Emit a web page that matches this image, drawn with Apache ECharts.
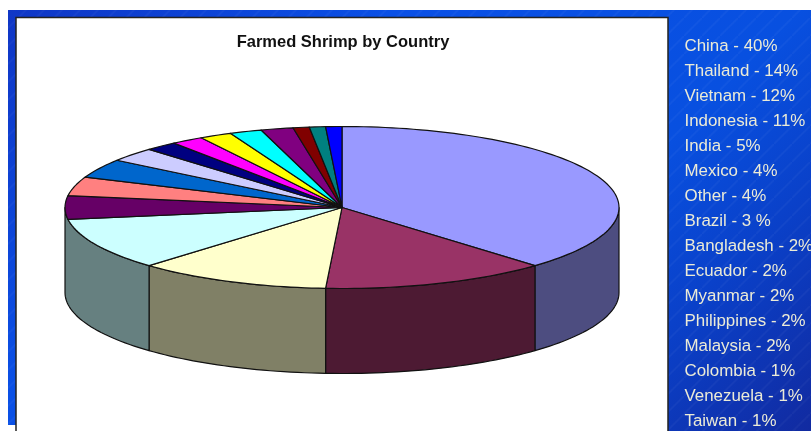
<!DOCTYPE html>
<html>
<head>
<meta charset="utf-8">
<style>html,body{margin:0;padding:0;background:#fff}#chart{width:811px;height:431px}</style>
<script src="https://cdn.jsdelivr.net/npm/echarts@6/dist/echarts.min.js"></script>
</head>
<body>
<div id="chart"></div>
<script>
// Farmed shrimp production share by country
const countries = ['China','Thailand','Vietnam','Indonesia','India','Mexico','Other','Brazil','Bangladesh','Ecuador','Myanmar','Philippines','Malaysia','Colombia','Venezuela','Taiwan'];
const shares = [40,14,12,11,5,4,4,3,2,2,2,2,2,1,1,1];
const shareSuffix = ['%','%','%','%','%','%','%',' %','%','%','%','%','%','%','%','%'];
const topColors = ['#9999ff','#993366','#ffffcc','#ccffff','#660066','#ff8080','#0066cc','#ccccff','#000080','#ff00ff','#ffff00','#00ffff','#800080','#800000','#008080','#0000ff'];
const wallColors = ['#4d4d80','#4d1a33','#808066','#668080'];

// Projected disc: ellipse centre, radii and wall height in pixels
const disc = {cx: 342, cy: 207.5, rx: 277, ry: 81, depth: 85};
const total = shares.reduce((a, b) => a + b, 0);
const slices = [];
shares.forEach((v, i) => {
  const from = i ? slices[i - 1].to : 0;
  slices.push({from, to: from + v / total * 360});
});

function rim(deg, drop) {
  const t = deg * Math.PI / 180;
  return [disc.cx + disc.rx * Math.sin(t), disc.cy - disc.ry * Math.cos(t) + (drop || 0)];
}
function arc(a, b, drop) {
  const pts = [], n = Math.max(2, Math.ceil((b - a) / 1.5));
  for (let k = 0; k <= n; k++) pts.push(rim(a + (b - a) * k / n, drop));
  return pts;
}

// Sparse, faint diagonal hatching laid over the blue backdrop
const hatch = document.createElement('canvas');
hatch.width = 18; hatch.height = 18;
const hc = hatch.getContext('2d');
hc.strokeStyle = 'rgba(255,255,255,0.035)';
hc.lineWidth = 2;
hc.beginPath();
hc.moveTo(-2, 20); hc.lineTo(20, -2);
hc.stroke();

const legendTexts = countries.map((c, i) => ({
  type: 'text', x: 684.5, y: 46.7 + i * 25,
  style: {
    text: c + ' - ' + shares[i] + shareSuffix[i],
    fill: '#ecebd6', font: '16.9px "Liberation Sans", Arial, sans-serif',
    align: 'left', verticalAlign: 'middle'
  }, z: 5
}));

const chart = echarts.init(document.getElementById('chart'));
chart.setOption({
  animation: false,
  backgroundColor: '#ffffff',
  title: {
    text: 'Farmed Shrimp by Country', left: 338, top: 29, textAlign: 'center',
    textStyle: {color: '#111', fontFamily: '"Liberation Sans", Arial, sans-serif', fontSize: 16.5, fontWeight: 'bold'}
  },
  graphic: [
    {type: 'rect', z: 0, shape: {x: 8, y: 10, width: 803, height: 415},
      style: {fill: new echarts.graphic.LinearGradient(0, 0, 811, 811, [
        {offset: 0, color: '#1035c4'}, {offset: 0.25, color: '#0a50e6'}, {offset: 0.5, color: '#0850e0'},
        {offset: 0.62, color: '#0a40c8'}, {offset: 0.78, color: '#12289c'}], true)}},
    {type: 'rect', z: 0, shape: {x: 668, y: 425, width: 143, height: 6},
      style: {fill: new echarts.graphic.LinearGradient(0, 0, 811, 811, [
        {offset: 0.62, color: '#0a40c8'}, {offset: 0.78, color: '#12289c'}], true)}},
    {type: 'rect', z: 1, shape: {x: 8, y: 10, width: 803, height: 421},
      style: {fill: {image: hatch, repeat: 'repeat'}}},
    {type: 'rect', z: 1, shape: {x: 0, y: 425, width: 15, height: 6}, style: {fill: '#fff'}},
    {type: 'rect', z: 2, shape: {x: 16, y: 17.5, width: 652, height: 420},
      style: {fill: '#fff', stroke: '#222', lineWidth: 1.5}},
    ...legendTexts
  ],
  series: [
    {
      // Outer wall: the four largest slices carry the whole front half of the disc
      type: 'custom', coordinateSystem: 'none', z: 3,
      data: wallColors.map((c, i) => [i, shares[i]]),
      renderItem(params, api) {
        const i = api.value(0), s = slices[i];
        const a = Math.max(s.from, 90);
        const b = i === wallColors.length - 1 ? 270 : s.to;
        if (b <= a) return {type: 'group', children: []};
        return {
          type: 'polygon',
          shape: {points: arc(a, b, 0).concat(arc(a, b, disc.depth).reverse())},
          style: {fill: wallColors[i], stroke: '#111', lineWidth: 1.2, lineJoin: 'round'}
        };
      }
    },
    {
      // Upper face of each slice
      type: 'custom', coordinateSystem: 'none', z: 4,
      data: shares.map((v, i) => [i, v]),
      renderItem(params, api) {
        const i = api.value(0), s = slices[i];
        return {
          type: 'polygon',
          shape: {points: [[disc.cx, disc.cy]].concat(arc(s.from, s.to, 0))},
          style: {fill: topColors[i], stroke: '#111', lineWidth: 1.2, lineJoin: 'round'}
        };
      }
    }
  ]
});
</script>
</body>
</html>
